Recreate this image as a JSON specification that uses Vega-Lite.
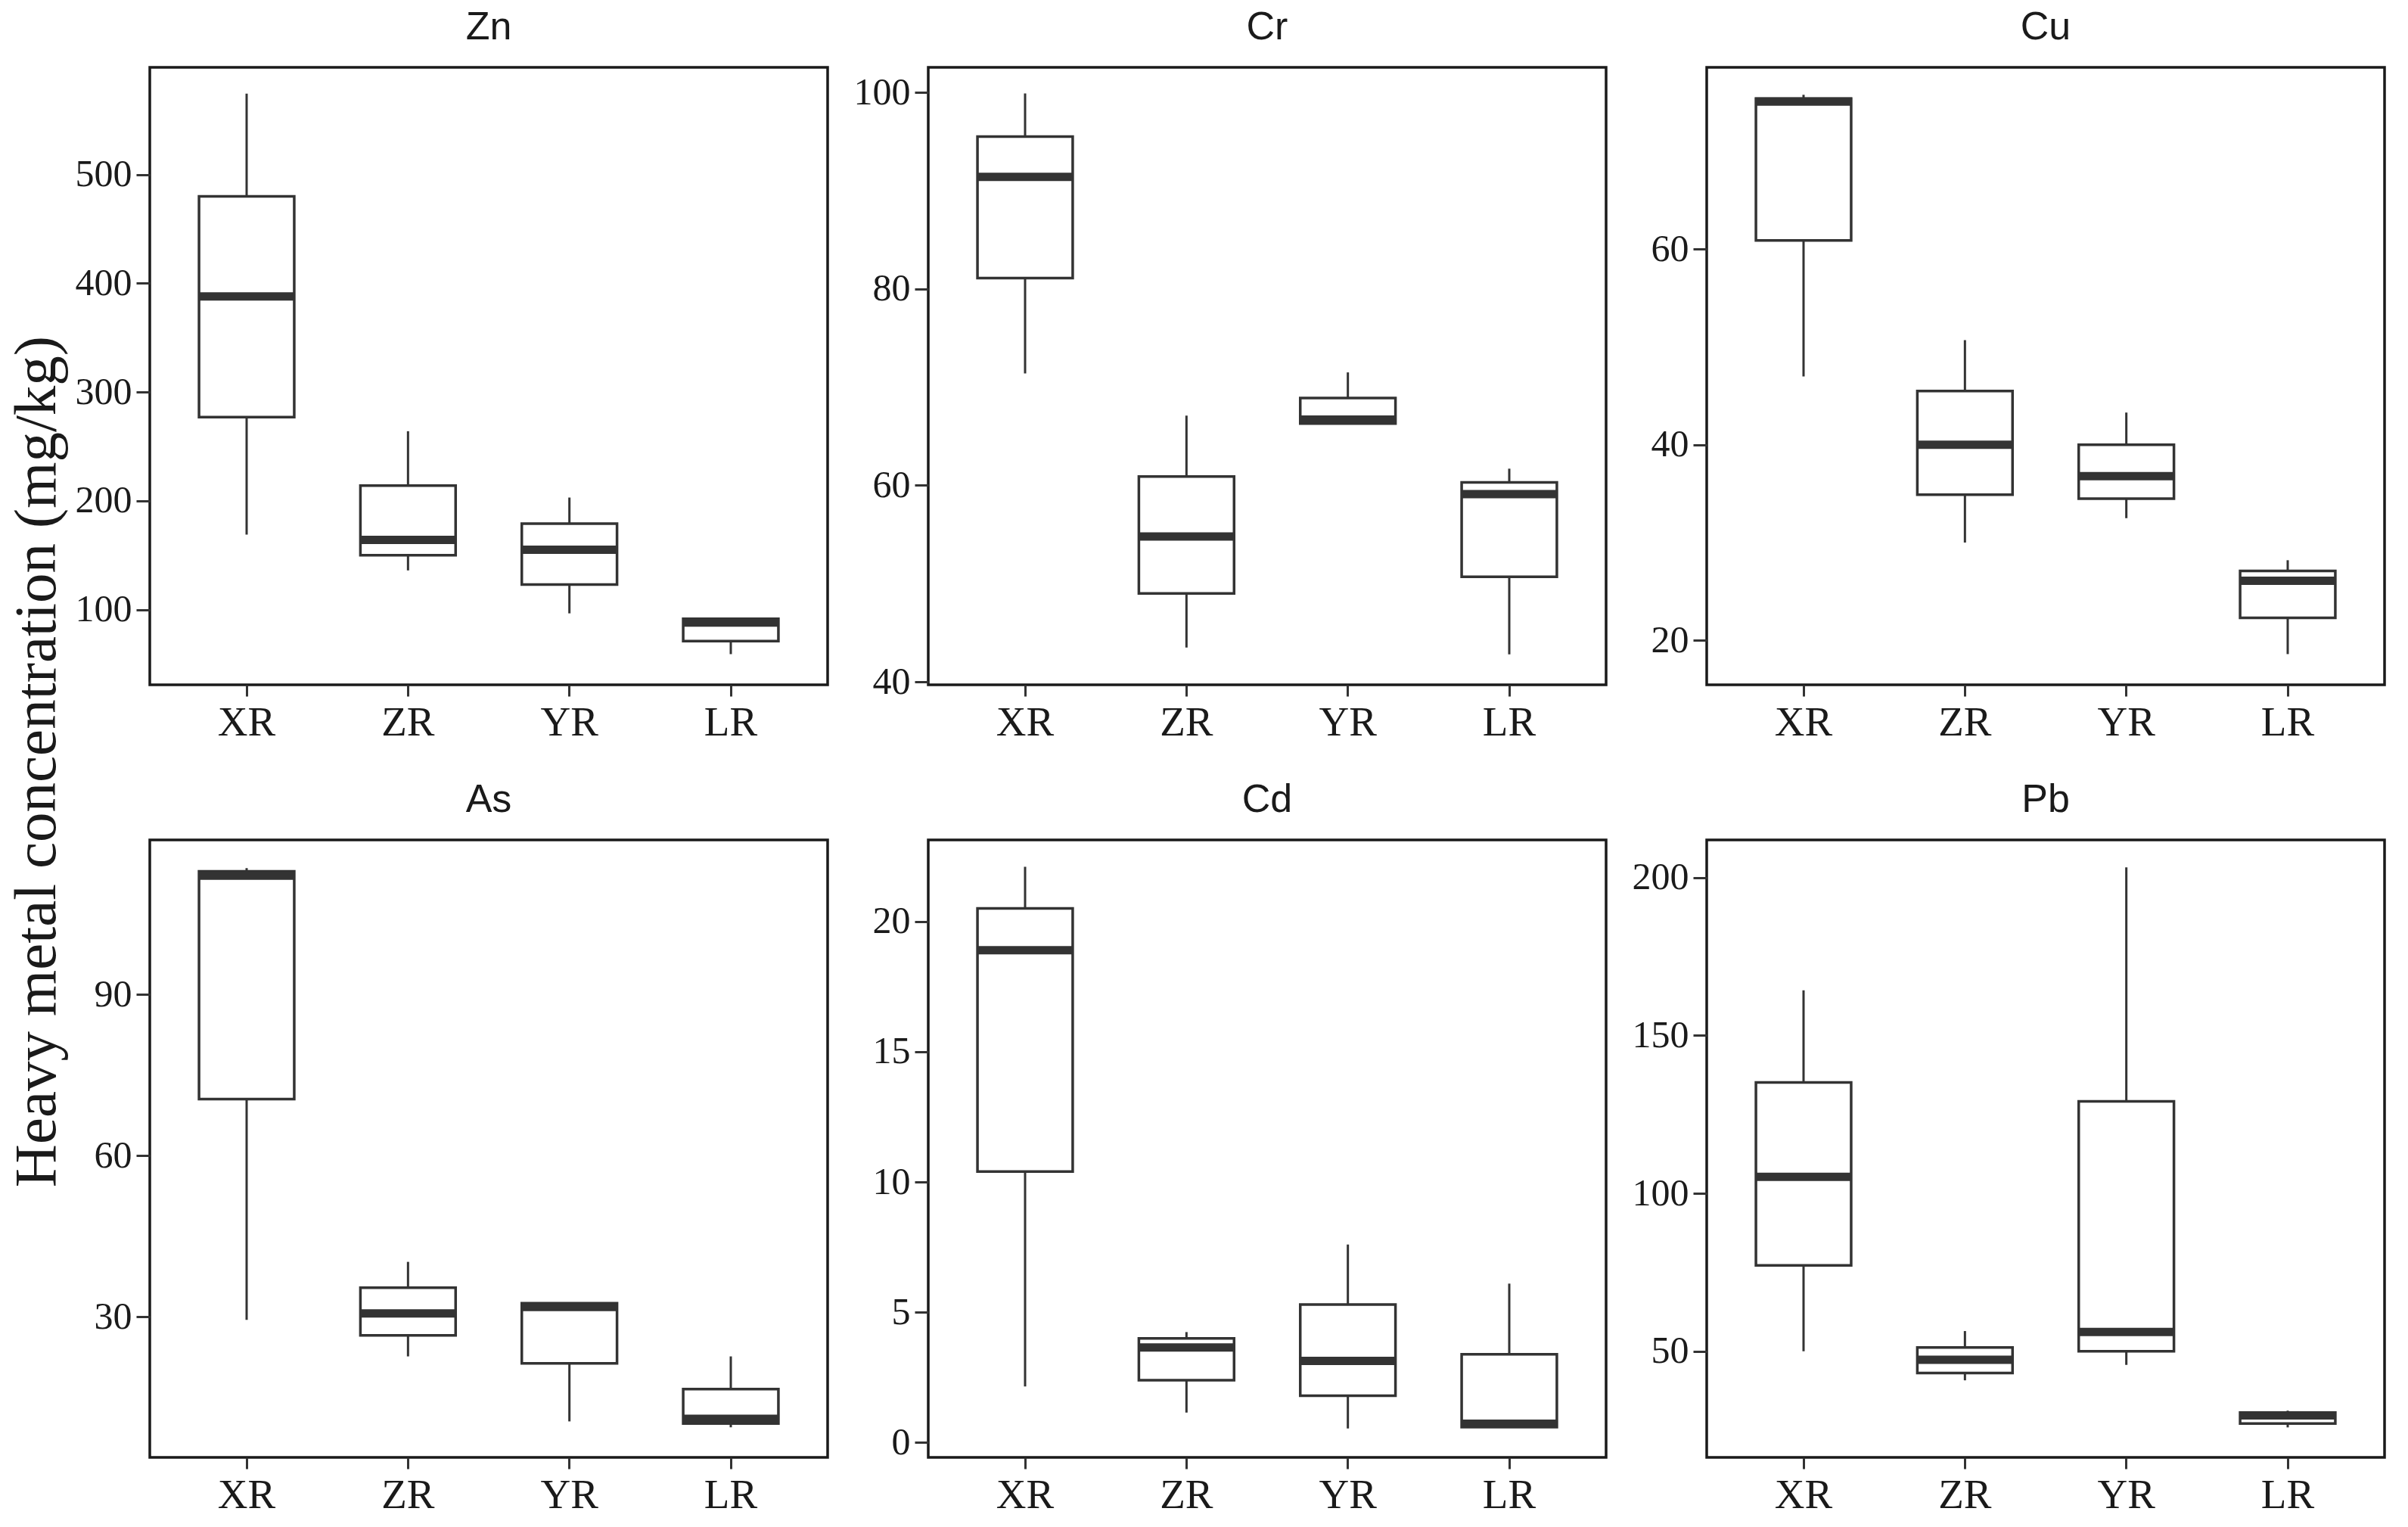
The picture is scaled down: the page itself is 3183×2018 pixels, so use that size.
{
  "$schema": "https://vega.github.io/schema/vega-lite/v6.json",
  "background": "white",
  "padding": {"left": 10, "top": 8, "right": 10, "bottom": 10},
  "title": {"text": "Heavy metal concentration (mg/kg)", "orient": "left", "anchor": "middle", "font": "Liberation Serif", "fontSize": 79, "fontWeight": "normal", "color": "#1a1a1a", "baseline": "alphabetic", "offset": -55, "frame": "bounds"},
  "data": {"values": [
    {"metal": "Zn", "region": "XR", "min": 169, "q1": 277, "median": 388, "q3": 480, "max": 574.5},
    {"metal": "Zn", "region": "ZR", "min": 136, "q1": 150, "median": 164, "q3": 214, "max": 264},
    {"metal": "Zn", "region": "YR", "min": 96.5, "q1": 123, "median": 155, "q3": 179, "max": 203},
    {"metal": "Zn", "region": "LR", "min": 59, "q1": 71, "median": 88, "q3": 91.5, "max": 92},
    {"metal": "Cr", "region": "XR", "min": 71.4, "q1": 81.1, "median": 91.4, "q3": 95.5, "max": 99.9},
    {"metal": "Cr", "region": "ZR", "min": 43.5, "q1": 49, "median": 54.8, "q3": 60.9, "max": 67.1},
    {"metal": "Cr", "region": "YR", "min": 66.3, "q1": 66.3, "median": 66.7, "q3": 68.9, "max": 71.5},
    {"metal": "Cr", "region": "LR", "min": 42.8, "q1": 50.7, "median": 59.1, "q3": 60.3, "max": 61.7},
    {"metal": "Cu", "region": "XR", "min": 47, "q1": 60.9, "median": 75.1, "q3": 75.4, "max": 75.8},
    {"metal": "Cu", "region": "ZR", "min": 30, "q1": 34.9, "median": 40, "q3": 45.5, "max": 50.7},
    {"metal": "Cu", "region": "YR", "min": 32.5, "q1": 34.5, "median": 36.8, "q3": 40, "max": 43.3},
    {"metal": "Cu", "region": "LR", "min": 18.6, "q1": 22.3, "median": 26.1, "q3": 27.1, "max": 28.2},
    {"metal": "As", "region": "XR", "min": 29.4, "q1": 70.5, "median": 112.1, "q3": 112.9, "max": 113.5},
    {"metal": "As", "region": "ZR", "min": 22.6, "q1": 26.5, "median": 30.6, "q3": 35.4, "max": 40.2},
    {"metal": "As", "region": "YR", "min": 10.5, "q1": 21.3, "median": 31.8, "q3": 32.5, "max": 32.5},
    {"metal": "As", "region": "LR", "min": 9.4, "q1": 10.1, "median": 11, "q3": 16.5, "max": 22.6},
    {"metal": "Cd", "region": "XR", "min": 2.15, "q1": 10.4, "median": 18.9, "q3": 20.5, "max": 22.1},
    {"metal": "Cd", "region": "ZR", "min": 1.15, "q1": 2.39, "median": 3.65, "q3": 4.0, "max": 4.24},
    {"metal": "Cd", "region": "YR", "min": 0.54, "q1": 1.8, "median": 3.13, "q3": 5.3, "max": 7.6},
    {"metal": "Cd", "region": "LR", "min": 0.59, "q1": 0.59, "median": 0.72, "q3": 3.39, "max": 6.1},
    {"metal": "Pb", "region": "XR", "min": 50, "q1": 77.2, "median": 105.2, "q3": 135.1, "max": 164.3},
    {"metal": "Pb", "region": "ZR", "min": 40.8, "q1": 43.1, "median": 47.3, "q3": 51.2, "max": 56.4},
    {"metal": "Pb", "region": "YR", "min": 45.7, "q1": 50, "median": 56.1, "q3": 129.1, "max": 203.2},
    {"metal": "Pb", "region": "LR", "min": 25.9, "q1": 27.1, "median": 29.7, "q3": 30.6, "max": 31.2}
  ]},
  "columns": 3,
  "spacing": {"row": 205, "column": 133},
  "bounds": "flush",
  "concat": [
    {
      "width": 896, "height": 816, "title": "Zn",
      "transform": [{"filter": "datum.metal === 'Zn'"}],
      "encoding": {"x": {"field": "region", "type": "nominal", "sort": ["XR", "ZR", "YR", "LR"], "scale": {"type": "band", "paddingInner": 0, "paddingOuter": 0.1}, "axis": {"title": null, "labelAngle": 0}}},
      "layer": [
        {"mark": {"type": "rule", "color": "#333333", "strokeWidth": 3}, "encoding": {"y": {"field": "min", "type": "quantitative", "scale": {"domain": [30.8, 598.6], "nice": false, "zero": false}, "axis": {"values": [100, 200, 300, 400, 500], "title": null}}, "y2": {"field": "max"}}},
        {"mark": {"type": "bar", "fill": "white", "stroke": "#333333", "strokeWidth": 3.5, "width": {"band": 0.59}}, "encoding": {"y": {"field": "q1", "type": "quantitative"}, "y2": {"field": "q3"}}},
        {"mark": {"type": "tick", "color": "#333333", "opacity": 1, "thickness": 11, "size": 128}, "encoding": {"y": {"field": "median", "type": "quantitative"}}}
      ]
    },
    {
      "width": 896, "height": 816, "title": "Cr",
      "transform": [{"filter": "datum.metal === 'Cr'"}],
      "encoding": {"x": {"field": "region", "type": "nominal", "sort": ["XR", "ZR", "YR", "LR"], "scale": {"type": "band", "paddingInner": 0, "paddingOuter": 0.1}, "axis": {"title": null, "labelAngle": 0}}},
      "layer": [
        {"mark": {"type": "rule", "color": "#333333", "strokeWidth": 3}, "encoding": {"y": {"field": "min", "type": "quantitative", "scale": {"domain": [39.7, 102.55], "nice": false, "zero": false}, "axis": {"values": [40, 60, 80, 100], "title": null}}, "y2": {"field": "max"}}},
        {"mark": {"type": "bar", "fill": "white", "stroke": "#333333", "strokeWidth": 3.5, "width": {"band": 0.59}}, "encoding": {"y": {"field": "q1", "type": "quantitative"}, "y2": {"field": "q3"}}},
        {"mark": {"type": "tick", "color": "#333333", "opacity": 1, "thickness": 11, "size": 128}, "encoding": {"y": {"field": "median", "type": "quantitative"}}}
      ]
    },
    {
      "width": 896, "height": 816, "title": "Cu",
      "transform": [{"filter": "datum.metal === 'Cu'"}],
      "encoding": {"x": {"field": "region", "type": "nominal", "sort": ["XR", "ZR", "YR", "LR"], "scale": {"type": "band", "paddingInner": 0, "paddingOuter": 0.1}, "axis": {"title": null, "labelAngle": 0}}},
      "layer": [
        {"mark": {"type": "rule", "color": "#333333", "strokeWidth": 3}, "encoding": {"y": {"field": "min", "type": "quantitative", "scale": {"domain": [15.46, 78.6], "nice": false, "zero": false}, "axis": {"values": [20, 40, 60], "title": null}}, "y2": {"field": "max"}}},
        {"mark": {"type": "bar", "fill": "white", "stroke": "#333333", "strokeWidth": 3.5, "width": {"band": 0.59}}, "encoding": {"y": {"field": "q1", "type": "quantitative"}, "y2": {"field": "q3"}}},
        {"mark": {"type": "tick", "color": "#333333", "opacity": 1, "thickness": 11, "size": 128}, "encoding": {"y": {"field": "median", "type": "quantitative"}}}
      ]
    },
    {
      "width": 896, "height": 816, "title": "As",
      "transform": [{"filter": "datum.metal === 'As'"}],
      "encoding": {"x": {"field": "region", "type": "nominal", "sort": ["XR", "ZR", "YR", "LR"], "scale": {"type": "band", "paddingInner": 0, "paddingOuter": 0.1}, "axis": {"title": null, "labelAngle": 0}}},
      "layer": [
        {"mark": {"type": "rule", "color": "#333333", "strokeWidth": 3}, "encoding": {"y": {"field": "min", "type": "quantitative", "scale": {"domain": [3.8, 118.75], "nice": false, "zero": false}, "axis": {"values": [30, 60, 90], "title": null}}, "y2": {"field": "max"}}},
        {"mark": {"type": "bar", "fill": "white", "stroke": "#333333", "strokeWidth": 3.5, "width": {"band": 0.59}}, "encoding": {"y": {"field": "q1", "type": "quantitative"}, "y2": {"field": "q3"}}},
        {"mark": {"type": "tick", "color": "#333333", "opacity": 1, "thickness": 11, "size": 128}, "encoding": {"y": {"field": "median", "type": "quantitative"}}}
      ]
    },
    {
      "width": 896, "height": 816, "title": "Cd",
      "transform": [{"filter": "datum.metal === 'Cd'"}],
      "encoding": {"x": {"field": "region", "type": "nominal", "sort": ["XR", "ZR", "YR", "LR"], "scale": {"type": "band", "paddingInner": 0, "paddingOuter": 0.1}, "axis": {"title": null, "labelAngle": 0}}},
      "layer": [
        {"mark": {"type": "rule", "color": "#333333", "strokeWidth": 3}, "encoding": {"y": {"field": "min", "type": "quantitative", "scale": {"domain": [-0.57, 23.13], "nice": false, "zero": false}, "axis": {"values": [0, 5, 10, 15, 20], "title": null}}, "y2": {"field": "max"}}},
        {"mark": {"type": "bar", "fill": "white", "stroke": "#333333", "strokeWidth": 3.5, "width": {"band": 0.59}}, "encoding": {"y": {"field": "q1", "type": "quantitative"}, "y2": {"field": "q3"}}},
        {"mark": {"type": "tick", "color": "#333333", "opacity": 1, "thickness": 11, "size": 128}, "encoding": {"y": {"field": "median", "type": "quantitative"}}}
      ]
    },
    {
      "width": 896, "height": 816, "title": "Pb",
      "transform": [{"filter": "datum.metal === 'Pb'"}],
      "encoding": {"x": {"field": "region", "type": "nominal", "sort": ["XR", "ZR", "YR", "LR"], "scale": {"type": "band", "paddingInner": 0, "paddingOuter": 0.1}, "axis": {"title": null, "labelAngle": 0}}},
      "layer": [
        {"mark": {"type": "rule", "color": "#333333", "strokeWidth": 3}, "encoding": {"y": {"field": "min", "type": "quantitative", "scale": {"domain": [16.4, 211.9], "nice": false, "zero": false}, "axis": {"values": [50, 100, 150, 200], "title": null}}, "y2": {"field": "max"}}},
        {"mark": {"type": "bar", "fill": "white", "stroke": "#333333", "strokeWidth": 3.5, "width": {"band": 0.59}}, "encoding": {"y": {"field": "q1", "type": "quantitative"}, "y2": {"field": "q3"}}},
        {"mark": {"type": "tick", "color": "#333333", "opacity": 1, "thickness": 11, "size": 128}, "encoding": {"y": {"field": "median", "type": "quantitative"}}}
      ]
    }
  ],
  "config": {
    "view": {"stroke": "#1a1a1a", "strokeWidth": 3.5},
    "axis": {"domain": false, "grid": false, "tickColor": "#333333", "tickWidth": 3, "labelFont": "Liberation Serif", "labelColor": "#1a1a1a"},
    "axisX": {"tickSize": 15, "labelFontSize": 55, "labelPadding": 8},
    "axisY": {"tickSize": 18, "labelFontSize": 50, "labelPadding": 6},
    "title": {"font": "Liberation Sans", "fontSize": 52, "fontWeight": "normal", "color": "#1a1a1a", "offset": 26, "baseline": "alphabetic", "anchor": "middle", "frame": "group"}
  }
}
